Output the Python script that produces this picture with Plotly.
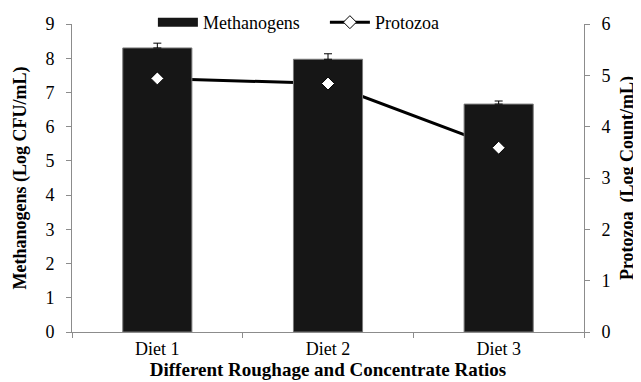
import plotly.graph_objects as go

categories = ["Diet 1", "Diet 2", "Diet 3"]
methanogens = [8.30, 7.97, 6.66]
methanogens_err = [0.14, 0.16, 0.09]
protozoa = [4.94, 4.84, 3.59]

FONT = "Liberation Serif"
AXIS_GRAY = "#8c8c8c"
BAR_COLOR = "#161616"

fig = go.Figure()

# Protozoa line (behind bars)
fig.add_trace(go.Scatter(
    x=categories, y=protozoa, mode="lines", yaxis="y",
    line=dict(color="black", width=3), showlegend=False, hoverinfo="skip"))

# Methanogens bars (on overlaying axis, drawn on top of the line)
fig.add_trace(go.Bar(
    x=categories, y=methanogens, yaxis="y2", name="Methanogens",
    marker=dict(color=BAR_COLOR, line=dict(color="#7a7a7a", width=1)),
    width=0.405,
    error_y=dict(type="data", symmetric=False, array=methanogens_err,
                 arrayminus=[0] * len(methanogens_err),
                 color="black", thickness=1, width=4),
    showlegend=False))

# Protozoa markers (on top)
fig.add_trace(go.Scatter(
    x=categories, y=protozoa, mode="markers", yaxis="y3",
    marker=dict(symbol="diamond", size=10, color="white",
                line=dict(color="black", width=1)),
    showlegend=False))

# Legend entries
fig.add_trace(go.Scatter(
    x=[None], y=[None], mode="lines", name="Methanogens", yaxis="y3",
    line=dict(color=BAR_COLOR, width=9), legendrank=1))
fig.add_trace(go.Scatter(
    x=[None], y=[None], mode="lines+markers", name="Protozoa", yaxis="y3",
    line=dict(color="black", width=3),
    marker=dict(symbol="diamond", size=10, color="white",
                line=dict(color="black", width=1)),
    legendrank=2))

fig.update_layout(
    width=641, height=382,
    margin=dict(l=64, r=65, t=16, b=58, autoexpand=False),
    paper_bgcolor="white", plot_bgcolor="white",
    font=dict(family=FONT, size=18, color="black"),
    showlegend=True,
    legend=dict(orientation="h", x=0.158, y=1.005, xanchor="left", yanchor="middle",
                font=dict(family=FONT, size=18), bgcolor="rgba(0,0,0,0)",
                itemwidth=40, tracegroupgap=0, entrywidth=117),
    xaxis=dict(type="category", range=[-0.5, 2.5], showgrid=False,
               automargin=False,
               showline=True, linecolor=AXIS_GRAY, linewidth=1,
               ticks="outside", tickson="boundaries", tickcolor=AXIS_GRAY,
               ticklen=5, ticklabelstandoff=0, tickfont=dict(family=FONT, size=18),
               title=dict(text="<b>Different Roughage and Concentrate Ratios</b>",
                          font=dict(family=FONT, size=19), standoff=3)),
    yaxis=dict(range=[0, 6], side="right", showgrid=False, zeroline=False,
               automargin=False,
               dtick=1, showline=True, linecolor=AXIS_GRAY, ticks="outside",
               tickcolor=AXIS_GRAY, ticklen=5, ticklabelstandoff=8,
               tickfont=dict(family=FONT, size=18),
               title=dict(text="<b>Protozoa  (Log Count/mL)</b>",
                          font=dict(family=FONT, size=18), standoff=10)),
    yaxis2=dict(range=[0, 9], side="left", overlaying="y", showgrid=False,
                automargin=False,
                zeroline=False, dtick=1, showline=True, linecolor=AXIS_GRAY,
                ticks="outside", tickcolor=AXIS_GRAY, ticklen=5,
                ticklabelstandoff=8,
                tickfont=dict(family=FONT, size=18),
                title=dict(text="<b>Methanogens (Log CFU/mL)</b>",
                           font=dict(family=FONT, size=18), standoff=14)),
    yaxis3=dict(range=[0, 6], overlaying="y", side="right", visible=False),
    bargap=0.595,
)

fig.write_html("out.html")
